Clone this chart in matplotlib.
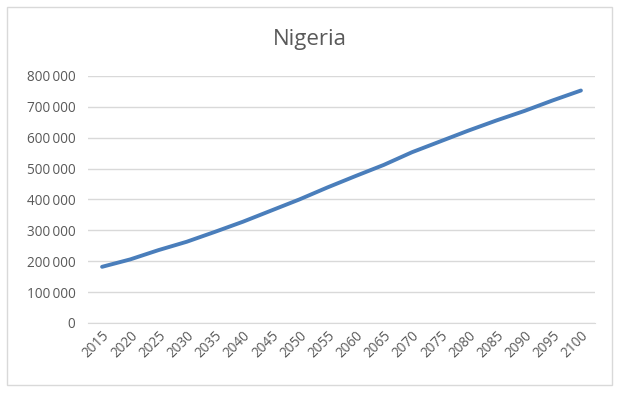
import matplotlib
matplotlib.use("Agg")
import matplotlib.pyplot as plt
from matplotlib.ticker import FuncFormatter
from matplotlib.patches import Rectangle

years = ["2015", "2020", "2025", "2030", "2035", "2040", "2045", "2050", "2055",
         "2060", "2065", "2070", "2075", "2080", "2085", "2090", "2095", "2100"]
population = [182000, 206000, 236000, 263000, 295000, 328000, 364000, 400000, 439000,
              476000, 512000, 553000, 588000, 623000, 656000, 687000, 721000, 753000]
title = "Nigeria"

plt.rcParams['font.family'] = ['Open Sans', 'DejaVu Sans']

fig = plt.figure(figsize=(6.18, 3.94), dpi=100)
fig.patches.append(Rectangle((7 / 618, 1 - 385 / 394), 605 / 618, 378 / 394,
                             transform=fig.transFigure, fill=False,
                             edgecolor='#d9d9d9', linewidth=1.0))

ax = fig.add_axes([88 / 618, 1 - 323 / 394, 507 / 618, 247 / 394])
x = list(range(len(years)))
ax.plot(x, population, color='#4a7ebb', linewidth=2.8, solid_capstyle='round')

ax.set_xlim(-0.5, len(years) - 0.5)
ax.set_ylim(0, 800000)
ax.set_yticks(range(0, 800001, 100000))
ax.yaxis.set_major_formatter(FuncFormatter(lambda v, p: f"{int(v):,}".replace(",", "\u2009")))
ax.set_xticks(x)
ax.set_xticklabels(years, rotation=45, ha='right', va='top', rotation_mode='anchor')

ax.grid(axis='y', color='#d9d9d9', linewidth=1.0)
ax.set_axisbelow(True)
for s in ax.spines.values():
    s.set_visible(False)
ax.spines['bottom'].set_visible(True)
ax.spines['bottom'].set_color('#d9d9d9')
ax.tick_params(axis='both', length=0, colors='#595959', labelsize=9.8)
ax.tick_params(axis='y', pad=9)
ax.tick_params(axis='x', pad=4)

fig.text(310 / 618, 1 - 40 / 394, title, ha='center', va='center',
         fontsize=16, color='#595959')

fig.savefig("out.png", dpi=100)
